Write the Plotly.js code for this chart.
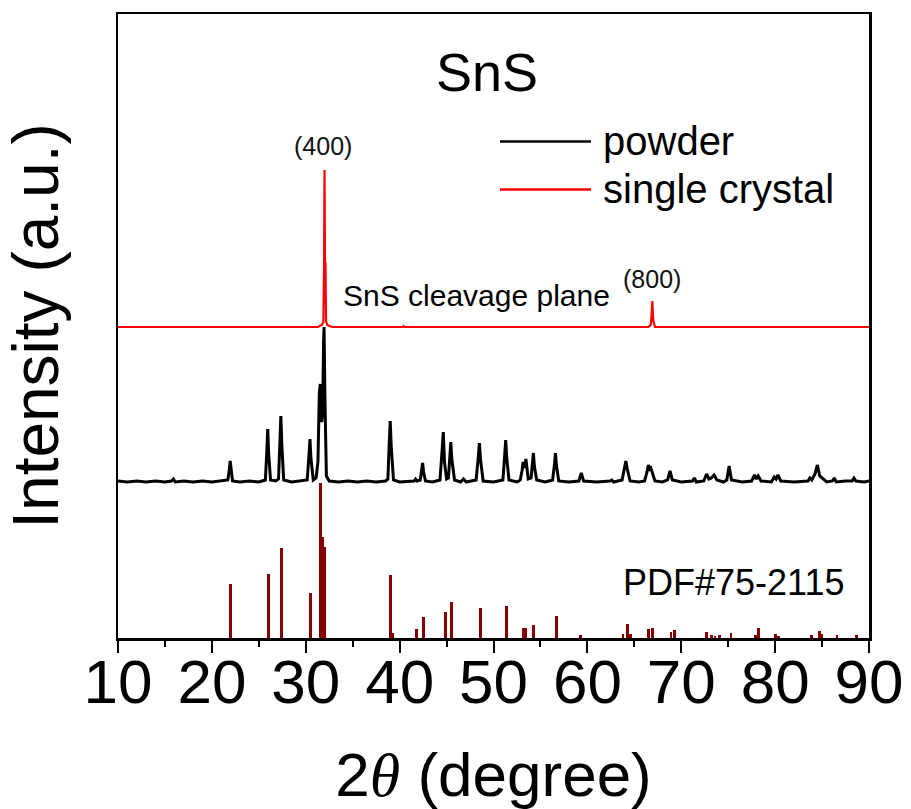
<!DOCTYPE html>
<html>
<head>
<meta charset="utf-8">
<script src="https://cdn.plot.ly/plotly-3.0.1.min.js"></script>
<style>html,body{margin:0;padding:0;background:#fff;}#chart{width:911px;height:809px;}</style>
</head>
<body>
<div id="chart"></div>
<script>
// ---- data (2theta in degrees, intensity in a.u.) ----
const xTicks = [10, 20, 30, 40, 50, 60, 70, 80, 90];

// powder pattern (relative intensity above its own baseline)
const powderX = [
  10, 11, 12, 13, 14, 15, 15.7, 15.9, 16.1, 17, 18, 19, 20, 21,
  21.7, 21.85, 21.95, 22.05, 22.2, 23, 24, 25,
  25.7, 25.85, 25.95, 26.05, 26.25, 26.8,
  27.1, 27.25, 27.35, 27.45, 27.65, 28.5, 29.5,
  30.15, 30.35, 30.45, 30.55, 30.8, 31.1,
  31.3, 31.45, 31.55, 31.7, 31.8, 31.9, 31.95, 32.05, 32.2, 32.5,
  33.5, 34.5, 35.5, 36.5, 37.5, 38.5,
  38.75, 38.9, 39.0, 39.1, 39.35, 40, 41,
  41.55, 41.7, 41.85, 42.2, 42.35, 42.45, 42.55, 42.75, 43.5,
  44.3, 44.55, 44.65, 44.78, 45.0, 45.2, 45.35, 45.45, 45.57, 45.85, 46.5, 46.8, 47.1,
  48.15, 48.38, 48.5, 48.62, 48.9, 50,
  51.0, 51.2, 51.3, 51.4, 51.65, 52.5,
  52.85, 53.05, 53.15, 53.3, 53.45, 53.55, 53.7, 54.0, 54.15, 54.25, 54.35, 54.6, 55.5,
  56.3, 56.5, 56.6, 56.7, 56.95, 58,
  59.1, 59.35, 59.6, 61, 62.4, 62.6, 62.8,
  63.7, 63.95, 64.1, 64.25, 64.55, 65.5,
  66.1, 66.35, 66.5, 66.65, 66.75, 66.9, 67.2, 68.0,
  68.55, 68.8, 69.05, 70, 71.2, 71.4, 71.6,
  72.4, 72.7, 72.95, 73.2, 73.5, 73.8, 74.5,
  74.85, 75.1, 75.35, 76.5,
  77.5, 77.8, 78.0, 78.2, 78.5, 79.6, 79.9, 80.1, 80.3, 80.6, 82,
  83.5, 83.7, 83.9, 84.25, 84.5, 84.75, 85.5,
  86.1, 86.3, 86.5, 87.5, 88.2, 88.4, 88.6, 89.5, 90
];
const powderY = [
  1, 0, 1, 0, 1, 0, 1, 3, 0, 1, 0, 1, 0, 1,
  2, 12, 21, 13, 1, 0, 1, 0,
  2, 30, 53, 28, 2, 1,
  3, 40, 66, 38, 2, 0, 1,
  2, 28, 43, 24, 2, 4,
  20, 90, 98, 60, 70, 140, 155, 80, 6, 1,
  0, 1, 0, 1, 0, 1,
  3, 40, 61, 36, 2, 0, 1,
  1, 3, 1, 2, 10, 19, 10, 1, 0,
  2, 35, 50, 20, 3, 4, 28, 40, 22, 2, 0, 3, 0,
  2, 25, 39, 22, 1, 0,
  2, 28, 42, 25, 2, 0,
  2, 12, 20, 14, 23, 15, 3, 4, 18, 29, 16, 2, 0,
  2, 18, 29, 17, 1, 0,
  1, 9, 1, 0, 1, 2, 0,
  2, 15, 21, 13, 1, 0,
  1, 10, 17, 13, 14, 10, 1, 0,
  2, 11, 2, 0, 1, 4, 0,
  1, 8, 3, 4, 7, 2, 0,
  2, 16, 2, 0,
  1, 7, 3, 6, 1, 0, 5, 3, 7, 1, 0,
  1, 4, 2, 8, 17, 6, 0,
  1, 4, 0, 1, 1, 4, 1, 0, 1
];

// single crystal pattern (relative intensity above its own baseline)
const crystalX = [10, 31.3, 31.7, 31.88, 31.95, 32.0, 32.05, 32.1, 32.16, 32.3, 32.8, 40.3, 40.4, 40.5, 66.5, 66.75, 66.85, 66.92, 66.97, 67.03, 67.2, 90];
const crystalY = [0, 0, 2, 5, 60, 157, 64, 64, 6, 2, 0, 0, 1, 0, 0, 2, 13, 26, 14, 6, 0, 0];

// PDF#75-2115 reference sticks
const pdfX = [22.0, 26.0, 27.45, 30.5, 31.55, 31.75, 32.0, 39.05, 39.3, 41.8, 42.5, 44.85, 45.5, 48.6, 51.35, 53.15, 53.45, 54.25, 56.75, 59.3, 63.8, 64.25, 64.6, 66.5, 66.9, 68.9, 69.3, 72.7, 73.2, 73.6, 74.1, 75.3, 77.9, 78.25, 80.0, 80.4, 83.9, 84.7, 85.0, 86.6, 88.7];
const pdfY = [54, 64, 90, 45, 155, 101, 91, 63, 5, 9, 21, 26, 36, 30, 32, 10, 10, 13, 22, 3, 4, 14, 4, 9, 10, 6, 8, 6, 3, 2, 3, 5, 3, 10, 4, 2, 3, 7, 4, 3, 3];

// vertical offsets of the stacked patterns
const powderOffset = 156;
const crystalOffset = 311;

const FONT = "'Liberation Sans', Arial, sans-serif";

const traces = [
  {
    type: 'bar', name: 'PDF#75-2115', x: pdfX, y: pdfY, width: 0.3,
    marker: {color: '#850000', line: {width: 0}}, showlegend: false, hoverinfo: 'x+y'
  },
  {
    type: 'scatter', mode: 'lines', name: 'powder',
    x: powderX, y: powderY.map(v => v + powderOffset),
    line: {color: '#000000', width: 3}, showlegend: false
  },
  {
    type: 'scatter', mode: 'lines', name: 'single crystal',
    x: crystalX, y: crystalY.map(v => v + crystalOffset),
    line: {color: '#ff0000', width: 2.2}, showlegend: false
  }
];

const L = 118, R = 869, T = 14, B = 638;
const px = v => (v - L) / (R - L);
const py = v => (B - v) / (B - T);

const layout = {
  width: 911, height: 809,
  margin: {l: L, r: 911 - R, t: T, b: 809 - B, pad: 0},
  paper_bgcolor: '#ffffff', plot_bgcolor: '#ffffff',
  font: {family: FONT, color: '#000000'},
  bargap: 0,
  title: {
    text: 'SnS', font: {family: FONT, size: 54, color: '#000000'},
    x: px(487), xref: 'paper', xanchor: 'center',
    y: py(72), yref: 'paper', yanchor: 'middle'
  },
  xaxis: {
    range: [10, 90], tickmode: 'array', tickvals: xTicks, ticktext: xTicks.map(String),
    ticks: 'outside', ticklen: 12, tickwidth: 2, tickcolor: '#000',
    ticklabelstandoff: -24,
    minor: {dtick: 5, tick0: 5, ticks: 'outside', ticklen: 6, tickwidth: 2, tickcolor: '#000', showgrid: false},
    showline: true, linewidth: 2.5, linecolor: '#000', mirror: true,
    showgrid: false, zeroline: false,
    tickfont: {family: FONT, size: 62, color: '#000'},
    title: {
      text: "2<span style=\"font-family:'Liberation Serif',serif\"><i>θ</i></span> (degree)",
      font: {family: FONT, size: 62, color: '#000'}, standoff: 54
    }
  },
  yaxis: {
    range: [0, B - T], showticklabels: false, ticks: '',
    showline: true, linewidth: 2.5, linecolor: '#000', mirror: true,
    showgrid: false, zeroline: false,
    title: {text: 'Intensity (a.u.)', font: {family: FONT, size: 64, color: '#000'}, standoff: 40}
  },
  shapes: [
    {type: 'line', xref: 'paper', yref: 'paper', x0: px(500), x1: px(591), y0: py(141.5), y1: py(141.5), line: {color: '#000000', width: 2.5}},
    {type: 'line', xref: 'paper', yref: 'paper', x0: px(500), x1: px(591), y0: py(189.5), y1: py(189.5), line: {color: '#ff0000', width: 2.5}}
  ],
  annotations: [
    {text: 'powder', xref: 'paper', yref: 'paper', x: px(601), y: py(141), xanchor: 'left', yanchor: 'middle', showarrow: false, font: {family: FONT, size: 40, color: '#000'}},
    {text: 'single crystal', xref: 'paper', yref: 'paper', x: px(601), y: py(189), xanchor: 'left', yanchor: 'middle', showarrow: false, font: {family: FONT, size: 40, color: '#000'}},
    {text: '(400)', xref: 'paper', yref: 'paper', x: px(323), y: py(146), xanchor: 'center', yanchor: 'middle', showarrow: false, font: {family: FONT, size: 25, color: '#111'}},
    {text: 'SnS cleavage plane', xref: 'paper', yref: 'paper', x: px(341), y: py(296), xanchor: 'left', yanchor: 'middle', showarrow: false, font: {family: FONT, size: 30, color: '#000'}},
    {text: '(800)', xref: 'paper', yref: 'paper', x: px(652), y: py(279), xanchor: 'center', yanchor: 'middle', showarrow: false, font: {family: FONT, size: 25, color: '#111'}},
    {text: 'PDF#75-2115', xref: 'paper', yref: 'paper', x: px(621), y: py(582), xanchor: 'left', yanchor: 'middle', showarrow: false, font: {family: FONT, size: 36, color: '#000'}}
  ]
};

Plotly.newPlot('chart', traces, layout, {staticPlot: true, displayModeBar: false});
</script>
</body>
</html>
